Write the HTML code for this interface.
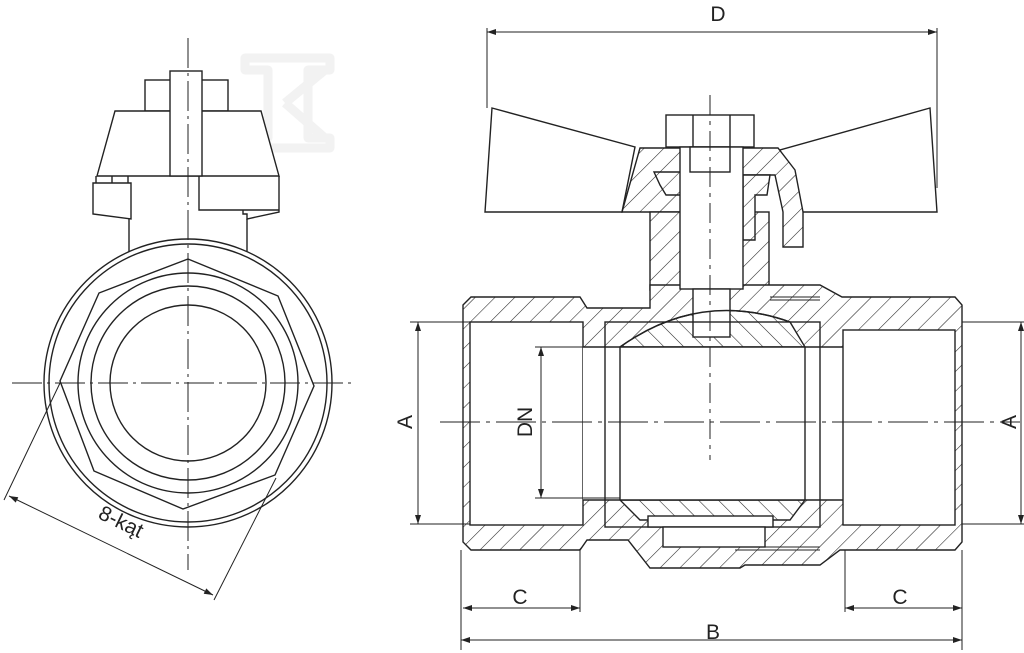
<!DOCTYPE html>
<html><head><meta charset="utf-8"><style>
html,body{margin:0;padding:0;background:#fff;}
svg{display:block;}
text{font-family:"Liberation Sans",sans-serif;fill:#222;}
</style></head><body>
<svg width="1024" height="653" viewBox="0 0 1024 653" xmlns="http://www.w3.org/2000/svg">
<defs>
<pattern id="h" patternUnits="userSpaceOnUse" width="14" height="14" patternTransform="rotate(45)">
<rect width="14" height="14" fill="#fff"/><line x1="0" y1="0" x2="0" y2="14" stroke="#222" stroke-width="1.1"/>
</pattern>
<pattern id="h2" patternUnits="userSpaceOnUse" width="14" height="14" patternTransform="rotate(-45)">
<rect width="14" height="14" fill="#fff"/><line x1="0" y1="0" x2="0" y2="14" stroke="#222" stroke-width="1.1"/>
</pattern>
<marker id="ar" markerWidth="10" markerHeight="8" refX="9" refY="4" orient="auto" markerUnits="userSpaceOnUse">
<path d="M0,1 L9,4 L0,7" fill="#222"/></marker>
<marker id="al" markerWidth="10" markerHeight="8" refX="1" refY="4" orient="auto" markerUnits="userSpaceOnUse">
<path d="M10,1 L1,4 L10,7" fill="#222"/></marker>
</defs>

<g fill="none" stroke="#f2f2f2" stroke-width="9" stroke-linejoin="round">
<path d="M245,58 H330 V70 H308 V138 H330 V148 H245 V138 H268 V70 H245 Z"/>
<path d="M285,103 L325,70 M285,103 L325,138"/>
</g>

<g fill="none" stroke="#222" stroke-width="1.4">
<rect x="145" y="80" width="83" height="31" fill="#fff"/>
<path d="M115,111 H261 L279,176 H97 Z" fill="#fff"/>
<rect x="170" y="71" width="32" height="105" fill="#fff"/>
<path d="M93,183 H131 V219 L93,214 Z"/>
<path d="M96,176 V183 M112,176 V183 M128,176 V183"/>
<path d="M199,176 V210 H279 M279,176 V212 L247,219 V214 H243 V210"/>
<path d="M129,219 V252 M247,219 V252"/>
<circle cx="188" cy="383" r="144" fill="#fff"/>
<circle cx="188" cy="383" r="139"/>
<polygon points="188,259 278,296 314,386 275,475 183,509 94,471 60,381 99,293"/>
<circle cx="188" cy="383" r="110"/>
<circle cx="188" cy="383" r="97"/>
<circle cx="188" cy="383" r="78"/>
<path d="M188,38 V570" stroke-dasharray="30,5,3,5" stroke-width="1"/>
<path d="M12,383 H355" stroke-dasharray="30,5,3,5" stroke-width="1"/>
<path d="M60,383 L4,500 M276,478 L214,600" stroke-width="1"/>
<path d="M9,496 L213,595" stroke-width="1" marker-start="url(#al)" marker-end="url(#ar)"/>

<path d="M492,108 L635,147 L622,212 H485 Z" fill="#fff"/>
<path d="M930,108 L937,212 H803 L780,150 Z" fill="#fff"/>
<path d="M622,212 L640,148 H683 V212 Z" fill="url(#h)"/>
<path d="M740,148 H778 L795,170 L803,212 V247 H783 V212 L775,175 H740 Z" fill="url(#h)"/>
<rect x="666" y="115" width="88" height="32" fill="#fff"/>
<path d="M693,115 V147 M730,115 V147"/>
<rect x="650" y="212" width="119" height="78" fill="url(#h)"/>
<path d="M654,172 H683 V195 H666 L660,185 Z" fill="url(#h)"/>
<path d="M743,175 H770 L767,195 H755 V240 H743 Z" fill="url(#h)"/>
<path d="M463,305 L471,297 H580 L587,308 H650 V285 H820 L842,297 H955 L962,305 V542 L955,550 H840 L820,565 H745 L740,568 H650 L628,540 H587 L580,550 H471 L463,542 Z" fill="url(#h)"/>
<path d="M620,347 Q700,290 790,322 L805,347 Z" fill="url(#h2)"/>
<path d="M620,500 H805 L790,520 H640 Z" fill="url(#h2)"/>
<rect x="680" y="147" width="63" height="142" fill="#fff"/>
<rect x="690" y="147" width="40" height="25" fill="#fff"/>
<rect x="693" y="289" width="37" height="48" fill="#fff"/>
<rect x="470" y="322" width="113" height="203" fill="#fff"/>
<rect x="583" y="347" width="260" height="153" fill="#fff" stroke="none"/>
<rect x="843" y="330" width="112" height="195" fill="#fff"/>
<path d="M583,347 H843 M583,500 H843"/>
<rect x="605" y="322" width="215" height="205"/>
<path d="M620,347 V500 M805,347 V500"/>
<path d="M620,347 Q700,290 790,322"/>
<rect x="648" y="516" width="125" height="11" fill="#fff"/>
<rect x="663" y="527" width="102" height="20" fill="#fff"/>
<path d="M735,547 H820 M735,550 H820" stroke-width="1"/>
<path d="M770,297 H820 M770,300 H820" stroke-width="1"/>

<path d="M710,95 V460" stroke-dasharray="20,6,4,6" stroke-width="1"/>
<path d="M440,422 H1020" stroke-dasharray="40,6,4,6" stroke-width="1"/>

<g stroke-width="1">
<path d="M487,28 V108 M937,28 V188"/>
<path d="M487,32 H937" marker-start="url(#al)" marker-end="url(#ar)"/>
<path d="M410,322 H470 M410,524 H470 M962,322 H1024 M962,524 H1024"/>
<path d="M418,322 V524" marker-start="url(#al)" marker-end="url(#ar)"/>
<path d="M1021,322 V524" marker-start="url(#al)" marker-end="url(#ar)"/>
<path d="M535,347 H583 M535,498 H620"/>
<path d="M541,347 V498" marker-start="url(#al)" marker-end="url(#ar)"/>
<path d="M461,550 V650 M580,550 V612 M845,550 V612 M962,550 V650"/>
<path d="M463,608 H580" marker-start="url(#al)" marker-end="url(#ar)"/>
<path d="M845,608 H962" marker-start="url(#al)" marker-end="url(#ar)"/>
<path d="M461,640 H962" marker-start="url(#al)" marker-end="url(#ar)"/>
</g>
</g>

<g font-size="21">
<text x="718" y="21" text-anchor="middle">D</text>
<text x="713" y="639" text-anchor="middle">B</text>
<text x="520" y="604" text-anchor="middle">C</text>
<text x="900" y="604" text-anchor="middle">C</text>
<text transform="translate(412,422) rotate(-90)" text-anchor="middle">A</text>
<text transform="translate(1016,422) rotate(-90)" text-anchor="middle">A</text>
<text transform="translate(532,422) rotate(-90)" text-anchor="middle">DN</text>
<text transform="translate(118,528) rotate(26)" text-anchor="middle">8-kąt</text>
</g>
</svg>
</body></html>
